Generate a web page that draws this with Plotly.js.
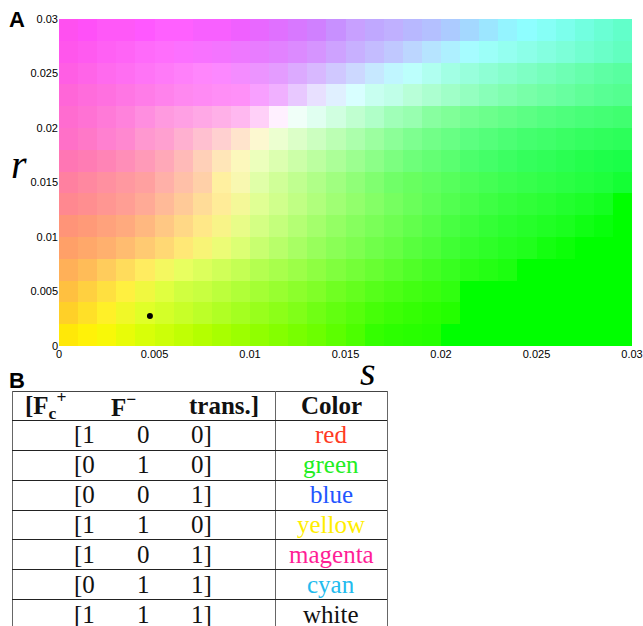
<!DOCTYPE html>
<html><head><meta charset="utf-8">
<script src="https://cdn.plot.ly/plotly-3.0.1.min.js"></script>
<style>html,body{margin:0;padding:0;background:#fff;}#chart{width:643px;height:626px;}</style>
</head><body><div id="chart"></div>
<script>
// ---------- data ----------
const sStart = 0, sStep = 0.001;   // 30 columns of s
const rStart = 0, rStep = 0.002;   // 15 rows of r
const sTicks = [0, 0.005, 0.01, 0.015, 0.02, 0.025, 0.03];
const sTickText = ["0", "0.005", "0.01", "0.015", "0.02", "0.025", "0.03"];
const rTicks = [0, 0.005, 0.01, 0.015, 0.02, 0.025, 0.03];
const rTickText = ["0", "0.005", "0.01", "0.015", "0.02", "0.025", "0.03"];
// RGB colour of each cell, rows from r = 0 (bottom) up to r = 0.03 (top)
const colorRows = [
 ["ffe808","fff208","f8f808","e8fc08","d8ff08","ccff08","c0ff04","b4ff00","a8ff00","9cff00","90ff00","84ff00","78ff00","6cff00","5cff00","4cff00","34ff00","2cff00","28ff00","24ff00","00ff00","00ff00","00ff00","00ff00","00ff00","00ff00","00ff00","00ff00","00ff00","00ff00"],
 ["ffd028","ffe028","fff028","f0f828","e0ff28","d4ff28","c8ff28","bcff28","b0ff24","a4ff20","98ff1c","8cff18","80ff18","70ff14","62ff10","56ff0c","46ff08","3cff06","34ff04","2cff02","24ff00","00ff00","00ff00","00ff00","00ff00","00ff00","00ff00","00ff00","00ff00","00ff00"],
 ["ffc040","ffd040","ffe040","fff040","f0f840","e0ff40","d0ff40","c8ff40","bcff3c","b0ff38","a4ff34","98ff30","8cff2c","80ff28","70ff22","64ff1e","56ff1a","4cff16","42ff12","3aff10","30ff10","00ff00","00ff00","00ff00","00ff00","00ff00","00ff00","00ff00","00ff00","00ff00"],
 ["ffb058","ffbc58","ffcc5c","ffdc5c","ffec60","f4f860","e8ff60","dcff5c","d0ff58","c4ff54","b4ff50","a8ff4c","9cff48","8eff42","80ff3e","74ff38","68ff32","5cff2e","50ff28","44ff24","38ff20","2cff18","24ff14","1cff10","00ff00","00ff00","00ff00","00ff00","00ff00","00ff00"],
 ["ffa068","ffa86a","ffb06e","ffbc70","ffca72","ffd874","ffe876","f8f476","ecfc76","dcff74","c8ff70","b8ff6a","a8ff64","98ff5c","8aff56","7eff50","70ff4a","66ff44","58ff3e","4eff3a","40ff34","36ff2e","2eff28","26ff22","20ff1c","14ff10","0cff08","00ff00","00ff00","00ff00"],
 ["ff9478","ff9a78","ffa27c","ffaa7e","ffb880","ffc884","ffd886","ffe888","f8f488","e8fc88","d4ff84","c4ff7c","b4ff74","a4ff6c","94ff64","86ff5e","7aff58","6eff52","62ff4c","56ff48","48ff42","3eff3c","34ff36","2cff30","26ff2a","20ff24","1aff1e","10ff14","08ff0c","00ff00"],
 ["ff8890","ff8e90","ff9692","ff9e94","ffaa96","ffba98","ffca98","ffdc98","ffec98","f4f898","e0ff94","d0ff8c","c0ff84","b0ff7c","a0ff74","92ff6c","84ff66","76ff60","6aff5a","5eff56","52ff50","48ff4a","3eff44","36ff3e","30ff38","2aff34","22ff2e","1cff28","14ff20","00ff00"],
 ["ff80a0","ff88a0","ff90a0","ff98a0","ffa0a0","ffb0a8","ffc0a8","ffd0a8","fff0a0","f8f8b0","e0ffa8","d0ff98","c0ff90","b0ff88","a0ff80","90ff78","80ff70","70ff68","68ff60","60ff60","56ff5c","4cff58","44ff54","3cff50","36ff4c","30ff48","2aff44","24ff40","1eff3c","14ff34"],
 ["ff76b4","ff7cb4","ff84b6","ff8eb8","ff9ab8","ffa8b8","ffbab8","ffd0b8","ffe6b8","fcf8bc","ecffbc","dcffb0","ccffa8","bcffa0","acff98","9cff90","8cff88","7cff80","6eff7a","64ff74","5aff70","4cff6c","44ff68","3cff62","34ff5c","30ff58","2aff52","24ff4c","1eff4a","1aff48"],
 ["ff70c8","ff78c8","ff80d0","ff88d0","ff98d0","ffa0d0","ffb0d0","ffc0d0","ffd0d0","ffe4cc","fcf8d0","ecffd0","dcffc8","ccffc0","bcffb4","acffac","9cffa0","8cff98","7eff90","72ff88","68ff84","5cff80","54ff7a","4cff74","44ff6e","40ff6a","3aff64","34ff60","30ff5c","2cff5a"],
 ["ff6cd0","ff72d4","ff7ad8","ff82dc","ff8ee0","ff9ae0","ffa0e4","ffa8e6","ffb0e8","ffb8f0","ffd0f8","fff0ff","f0fff8","e0fff0","d0ffe0","c0ffd0","b0ffc8","a0ffb8","98ffb0","88ffa0","80ff98","74ff92","6cff8c","64ff88","5cff84","54ff80","4eff7c","48ff78","44ff74","40ff70"],
 ["ff66d8","ff6cdc","ff70e0","ff76e4","ff7ce8","ff82ec","ff88f0","ff8af4","ff8ef6","ff90f8","f8a0ff","f0b0ff","e8c8ff","e8e0ff","e0f0ff","d8ffff","c8fff0","c0ffe8","b8ffd8","acffd0","a0ffc8","94ffc0","88ffb8","80ffb0","78ffa8","70ffa4","68ffa0","60ff98","58ff94","54ff90"],
 ["ff5ee4","ff64e8","ff6aee","ff6ef2","ff74f6","ff7af8","ff80fa","ff86fc","fc88ff","f48cff","ec94ff","e49cff","dcaaff","d8b8ff","d0c8ff","ccd8ff","c6e8ff","c0f6ff","bcfffc","b0fff0","a2ffe4","98ffdc","8effd4","86ffcc","7effc4","76ffbc","6effb4","66ffac","5effa4","58ffa0"],
 ["ff56ec","ff5af0","ff60f4","ff64f6","ff6afa","ff6efc","fc70ff","f872ff","f474ff","ee78ff","e87cff","e282ff","dc8aff","d694ff","cea2ff","c8b0ff","c4bcff","c0c8ff","bcd6ff","b6e4ff","aef0ff","a6fcff","9cfff8","94fff0","8cffe8","84ffe0","7cffd8","72ffd0","6affc8","62ffc0"],
 ["ff50f0","ff50f8","ff58f8","ff58f8","ff58ff","ff60ff","ff60ff","f860ff","f860ff","f060ff","e868ff","e070ff","d878ff","d080ff","c890ff","c8a0ff","c0a8ff","c0b0ff","b8b8ff","b4c0ff","accbff","a4d8ff","9ce6ff","94f4ff","8efeff","86fff6","7cffec","72ffe0","6affd4","62ffca"]
];
const markerS = [0.00476];
const markerR = [0.00275];
// table B
const featureRows = [[1,0,0],[0,1,0],[0,0,1],[1,1,0],[1,0,1],[0,1,1],[1,1,1]];
const colorNames = ["red","green","blue","yellow","magenta","cyan","white"];
const nameColors = ["#ff3b24","#22ee22","#2255ff","#ffee00","#ff1e96","#22bbee","#111111"];

// ---------- drawing ----------
const W = 643, H = 626;
const PX = x => x / W;
const PY = y => 1 - y / H;
const toRGB = h => [parseInt(h.slice(0,2),16), parseInt(h.slice(2,4),16), parseInt(h.slice(4,6),16)];

const traces = [
  {type:'image', z: colorRows.map(row => row.map(toRGB)),
   x0: sStart + sStep/2, dx: sStep, y0: rStart + rStep/2, dy: rStep, hoverinfo:'skip'},
  {type:'scatter', mode:'markers', x: markerS, y: markerR,
   marker:{color:'#000', size:6}, hoverinfo:'skip', showlegend:false}
];

const tickFont = {family:'Liberation Sans, Arial, sans-serif', size:11, color:'#000'};
const serif = 'Liberation Serif, Times New Roman, serif';

const shapes = [];
const annotations = [];
const tL = 12, tR = 387, tMid = 275, tTop = 391, hdrBot = 420, rowH = 29.85, tEnd = 632;
const line = (x0,y0,x1,y1,c) => shapes.push({type:'line', xref:'paper', yref:'paper',
  x0:PX(x0), y0:PY(y0), x1:PX(x1), y1:PY(y1), line:{color:c, width:1}});
line(tL, tTop+0.5, tR, tTop+0.5, '#444');
[tL+0.5, tMid+0.5, tR+0.5].forEach(x => line(x, tTop, x, tEnd, '#666'));
for (let k = 0; k < featureRows.length; k++) {
  const y = Math.round(hdrBot + rowH*k) + 0.5;
  line(tL, y, tR, y, '#222');
}
const ann = (x, y, text, size, color, extra) => annotations.push(Object.assign({
  xref:'paper', yref:'paper', x:PX(x), y:PY(y), text:text, showarrow:false,
  xanchor:'center', yanchor:'middle', font:{family:serif, size:size, color:color}}, extra||{}));

// header
ann(45, 405, '<b>[F<sub>c</sub><sup>+</sup></b>', 25, '#111');
ann(124, 405, '<b>F<sup>\u2212</sup></b>', 25, '#111');
ann(224, 405, '<b>trans.]</b>', 25, '#111');
ann(331, 405, '<b>Color</b>', 25, '#111');
// rows
featureRows.forEach((v, k) => {
  const yc = hdrBot + rowH*(k + 0.5);
  ann(85, yc, '[' + v[0], 25, '#111');
  ann(143, yc, String(v[1]), 25, '#111');
  ann(201, yc, v[2] + ']', 25, '#111');
  ann(331, yc, colorNames[k], 25, nameColors[k]);
});
// panel letters and axis symbols
ann(17, 20, '<b>A</b>', 22, '#000', {font:{family:'Liberation Sans, Arial, sans-serif', size:22, color:'#000'}});
ann(17, 380, '<b>B</b>', 22, '#000', {font:{family:'Liberation Sans, Arial, sans-serif', size:22, color:'#000'}});
ann(19, 164, '<i>r</i>', 40, '#000');
ann(368, 371, '<i>s</i>', 40, '#000');

const layout = {
  width: W, height: H, margin:{l:0, r:0, t:0, b:0},
  paper_bgcolor:'#fff', plot_bgcolor:'#fff', showlegend:false,
  xaxis:{domain:[PX(59), PX(632)], range:[0,0.03], autorange:false, showgrid:false,
    zeroline:false, showline:false, ticks:'', tickvals:sTicks, ticktext:sTickText,
    tickfont:tickFont, fixedrange:true},
  yaxis:{domain:[PY(346), PY(19)], range:[0,0.03], autorange:false, showgrid:false,
    zeroline:false, showline:false, ticks:'', tickvals:rTicks, ticktext:rTickText,
    tickfont:tickFont, scaleanchor:false, fixedrange:true},
  shapes: shapes, annotations: annotations
};
Plotly.newPlot('chart', traces, layout, {displayModeBar:false, staticPlot:true});
</script></body></html>
